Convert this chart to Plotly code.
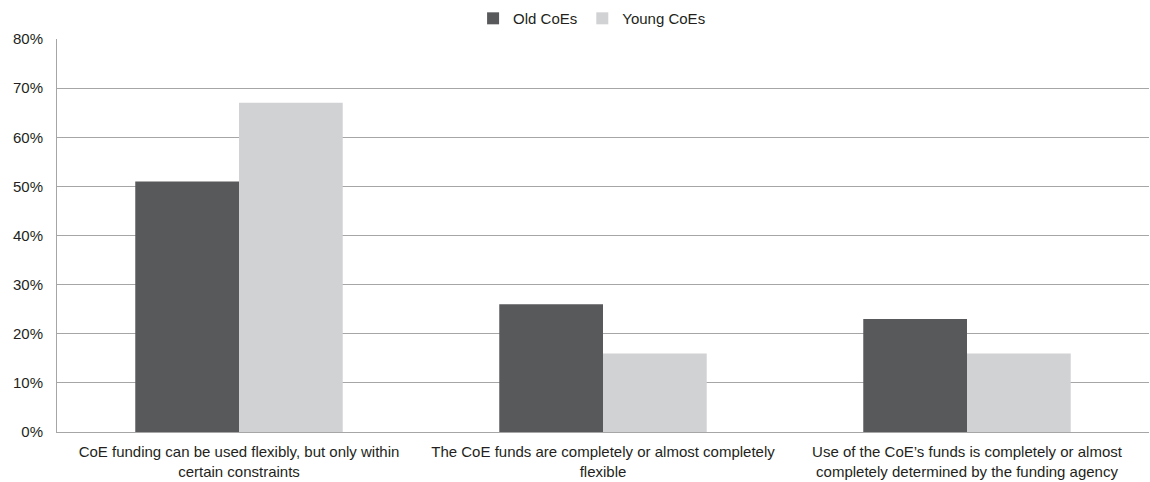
import plotly.graph_objects as go

categories = [
    "CoE funding can be used flexibly, but only within<br>certain constraints",
    "The CoE funds are completely or almost completely<br>flexible",
    "Use of the CoE’s funds is completely or almost<br>completely determined by the funding agency",
]
old_coes = [51, 26, 23]
young_coes = [67, 16, 16]
y_ticks = [0, 10, 20, 30, 40, 50, 60, 70, 80]
y_labels = [f"{v}%" for v in y_ticks]

FONT = "Liberation Sans Narrow, Arial Narrow, Liberation Sans, Arial, sans-serif"

fig = go.Figure()
fig.add_trace(go.Bar(name="Old CoEs", x=categories, y=old_coes, marker_color="#58595b", marker_line_width=0))
fig.add_trace(go.Bar(name="Young CoEs", x=categories, y=young_coes, marker_color="#d1d2d4", marker_line_width=0))

fig.update_layout(
    width=1150, height=482,
    margin=dict(l=57, r=1, t=39, b=50),
    barmode="group", bargap=0.43, bargroupgap=0,
    plot_bgcolor="white", paper_bgcolor="white",
    font=dict(family=FONT, size=15, color="#231f20"),
    legend=dict(orientation="h", x=0.49, xanchor="center", y=1.01, yanchor="bottom",
                font=dict(size=15), itemwidth=30, entrywidth=0, traceorder="normal"),
    showlegend=True,
)
fig.update_yaxes(range=[0, 80], tickvals=y_ticks, ticktext=y_labels,
                 showgrid=True, gridcolor="#a6a6a6", gridwidth=1,
                 showline=True, linecolor="#a6a6a6", linewidth=1,
                 zeroline=False, ticks="", ticklen=0, ticklabelstandoff=10,
                 tickfont=dict(size=15))
fig.update_xaxes(showline=True, linecolor="#a6a6a6", linewidth=1, ticks="",
                 tickfont=dict(size=15), ticklabelstandoff=6)

fig.write_html("out.html")
